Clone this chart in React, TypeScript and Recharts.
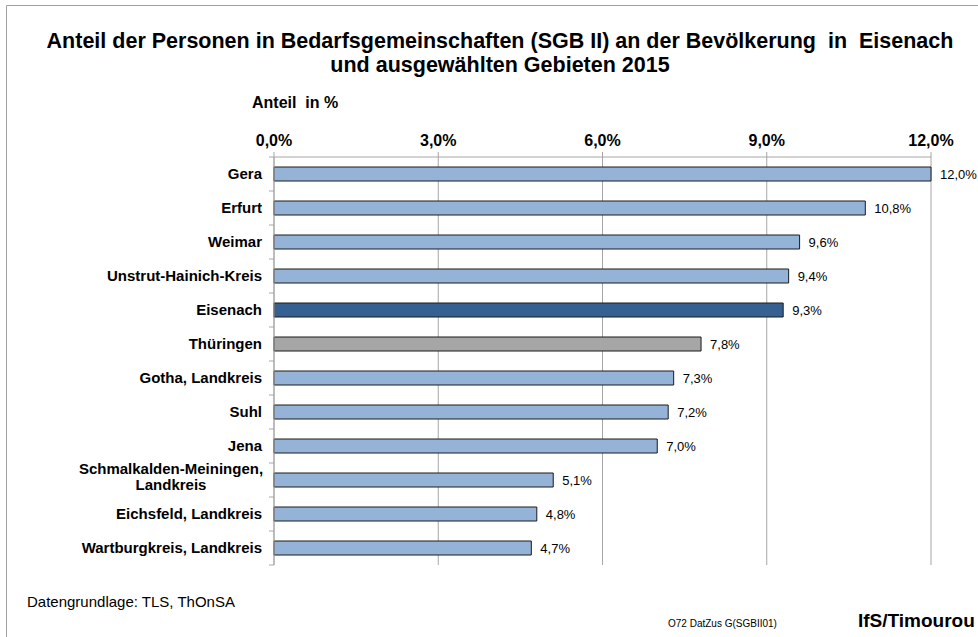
import { Bar, BarChart, CartesianGrid, Cell, LabelList, XAxis, YAxis } from "recharts";

const categories = [
  "Gera",
  "Erfurt",
  "Weimar",
  "Unstrut-Hainich-Kreis",
  "Eisenach",
  "Thüringen",
  "Gotha, Landkreis",
  "Suhl",
  "Jena",
  "Schmalkalden-Meiningen,\nLandkreis",
  "Eichsfeld, Landkreis",
  "Wartburgkreis, Landkreis",
];
const values = [12.0, 10.8, 9.6, 9.4, 9.3, 7.8, 7.3, 7.2, 7.0, 5.1, 4.8, 4.7];
const xTicks = [0, 3, 6, 9, 12];

const BAR_COLOR = "#95B3D7";
const HIGHLIGHT: Record<string, string> = { Eisenach: "#366092", "Thüringen": "#A6A6A6" };
const GRID = "#A6A6A6";
const FONT = "'Liberation Sans', Arial, sans-serif";

const data = categories.map((name, i) => ({ name, value: values[i] }));

const fmt = (v: number) => v.toFixed(1).replace(".", ",") + "%";

// plot box: top 157, bottom 565 -> band size
const BAND = (565 - 157) / categories.length;

function CategoryTick(props: any) {
  const { x, y, payload, index } = props;
  const lines = String(payload.value).split("\n");
  const tx = x - 6;
  return (
    <g>
      {index === 0 && (
        <line x1={x + 1} x2={x + 6} y1={y - BAND / 2} y2={y - BAND / 2} stroke={GRID} />
      )}
      <line x1={x + 1} x2={x + 6} y1={y + BAND / 2} y2={y + BAND / 2} stroke={GRID} />
      {lines.length === 1 ? (
        <text x={tx} y={y + 5} textAnchor="end" fontSize={15} fontWeight="bold" fill="#000" fontFamily={FONT}>
          {lines[0]}
        </text>
      ) : (
        <text x={tx - 91} y={y - 6} textAnchor="middle" fontSize={15} fontWeight="bold" fill="#000" fontFamily={FONT}>
          {lines.map((l, i) => (
            <tspan key={i} x={tx - 91} dy={i === 0 ? 0 : 16}>
              {l}
            </tspan>
          ))}
        </text>
      )}
    </g>
  );
}

export default function App() {
  return (
    <div style={{ position: "absolute", left: 0, top: 0, width: 978, height: 637, background: "#fff", overflow: "hidden" }}>
      <BarChart
        width={978}
        height={637}
        data={data}
        layout="vertical"
        margin={{ top: 117, right: 47, bottom: 72, left: 0 }}
        barCategoryGap={0}
      >
        <CartesianGrid horizontal={false} stroke={GRID} />
        <XAxis
          type="number"
          orientation="top"
          domain={[0, 12]}
          ticks={xTicks}
          height={40}
          tickFormatter={fmt}
          axisLine={{ stroke: GRID }}
          tickLine={{ stroke: GRID }}
          tickSize={5}
          tickMargin={6}
          tick={{ fontSize: 16, fontWeight: "bold", fill: "#000", fontFamily: FONT }}
          interval={0}
        />
        <YAxis
          type="category"
          dataKey="name"
          width={274}
          axisLine={{ stroke: GRID }}
          tickLine={false}
          tickMargin={0}
          tick={<CategoryTick />}
          interval={0}
        />
        <Bar dataKey="value" barSize={14} stroke="#1A1A1A" strokeWidth={1} isAnimationActive={false}>
          {data.map((d) => (
            <Cell key={d.name} fill={HIGHLIGHT[d.name] ?? BAR_COLOR} />
          ))}
          <LabelList
            dataKey="value"
            position="right"
            offset={9}
            formatter={(v: any) => fmt(Number(v))}
            style={{ fontSize: 13, fill: "#000", fontFamily: FONT }}
          />
        </Bar>
      </BarChart>
      <svg
        width={978}
        height={637}
        style={{ position: "absolute", left: 0, top: 0, pointerEvents: "none" }}
        fontFamily={FONT}
      >
        <line x1={6.5} y1={5.5} x2={978} y2={5.5} stroke="#A0A0A0" />
        <line x1={6.5} y1={5.5} x2={6.5} y2={637} stroke="#A0A0A0" />
        <text x={500} y={48} textAnchor="middle" fontSize={21.5} fontWeight="bold" style={{ whiteSpace: "pre" }}>
          {"Anteil der Personen in Bedarfsgemeinschaften (SGB II) an der Bevölkerung  in  Eisenach"}
        </text>
        <text x={500} y={72} textAnchor="middle" fontSize={21.5} fontWeight="bold">
          und ausgewählten Gebieten 2015
        </text>
        <text x={252} y={108} fontSize={16} fontWeight="bold" style={{ whiteSpace: "pre" }}>
          {"Anteil  in %"}
        </text>
        <text x={27} y={607} fontSize={15}>
          Datengrundlage: TLS, ThOnSA
        </text>
        <text x={668} y={627} fontSize={10}>
          O72 DatZus G(SGBII01)
        </text>
        <text x={858} y={627} fontSize={19} fontWeight="bold">
          IfS/Timourou
        </text>
      </svg>
    </div>
  );
}
